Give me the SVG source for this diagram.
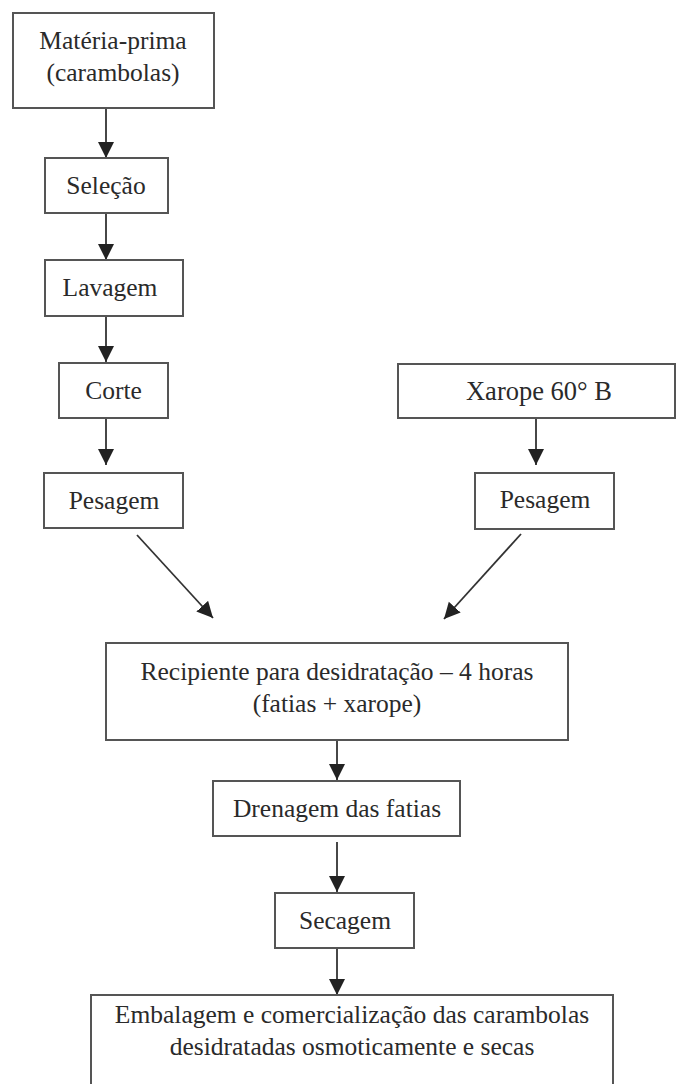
<svg xmlns="http://www.w3.org/2000/svg" width="680" height="1084" viewBox="0 0 680 1084">
<defs>
<style>
.box{fill:#fff;stroke:#555;stroke-width:2}
.lbl{font-family:'Liberation Serif',serif;font-size:25.5px;fill:#2a2a2a;text-anchor:middle}
.conn{stroke:#333;stroke-width:1.8;fill:none;marker-end:url(#ah)}
</style>
<marker id="ah" markerUnits="userSpaceOnUse" markerWidth="17" markerHeight="17" refX="16" refY="8" orient="auto">
<path d="M0,0 L16,8 L0,16 z" fill="#222"/>
</marker>
</defs>
<rect width="680" height="1084" fill="#fff"/>
<g id="connectors">
<line class="conn" x1="106" y1="108" x2="106" y2="158"/>
<line class="conn" x1="106" y1="213" x2="106" y2="260"/>
<line class="conn" x1="106" y1="316" x2="106" y2="362"/>
<line class="conn" x1="106" y1="418" x2="106" y2="465"/>
<line class="conn" x1="536" y1="418" x2="536" y2="465"/>
<line class="conn" x1="137" y1="535" x2="213" y2="618"/>
<line class="conn" x1="521" y1="534" x2="444" y2="619"/>
<line class="conn" x1="337" y1="740" x2="337" y2="780"/>
<line class="conn" x1="337" y1="842" x2="337" y2="892"/>
<line class="conn" x1="337" y1="948" x2="337" y2="995"/>
</g>
<g id="materia">
<rect class="box" x="13" y="13" width="201" height="95"/>
<text class="lbl" x="113" y="49" font-family="Liberation Serif">Matéria-prima</text>
<text class="lbl" x="113" y="81" font-family="Liberation Serif">(carambolas)</text>
</g>
<g id="selecao">
<rect class="box" x="45" y="158" width="123" height="55"/>
<text class="lbl" x="106" y="194">Seleção</text>
</g>
<g id="lavagem">
<rect class="box" x="45" y="260" width="138" height="56"/>
<text class="lbl" x="110" y="296">Lavagem</text>
</g>
<g id="corte">
<rect class="box" x="59" y="363" width="109" height="55"/>
<text class="lbl" x="113.5" y="399">Corte</text>
</g>
<g id="pesagem1">
<rect class="box" x="44" y="473" width="139" height="55"/>
<text class="lbl" x="114" y="509">Pesagem</text>
</g>
<g id="xarope">
<rect class="box" x="398" y="364" width="277" height="54"/>
<text class="lbl" x="539" y="400" style="font-size:26.5px">Xarope 60° B</text>
</g>
<g id="pesagem2">
<rect class="box" x="475" y="473" width="139" height="56"/>
<text class="lbl" x="545" y="508">Pesagem</text>
</g>
<g id="recipiente">
<rect class="box" x="106" y="643" width="462" height="97"/>
<text class="lbl" x="337" y="680">Recipiente para desidratação – 4 horas</text>
<text class="lbl" x="337" y="712">(fatias + xarope)</text>
</g>
<g id="drenagem">
<rect class="box" x="213" y="781" width="247" height="55"/>
<text class="lbl" x="337" y="817">Drenagem das fatias</text>
</g>
<g id="secagem">
<rect class="box" x="275" y="893" width="139" height="55"/>
<text class="lbl" x="345" y="929">Secagem</text>
</g>
<g id="embalagem">
<rect class="box" x="91" y="995" width="522" height="100"/>
<text class="lbl" x="352" y="1023">Embalagem e comercialização das carambolas</text>
<text class="lbl" x="352" y="1055">desidratadas osmoticamente e secas</text>
</g>
</svg>
